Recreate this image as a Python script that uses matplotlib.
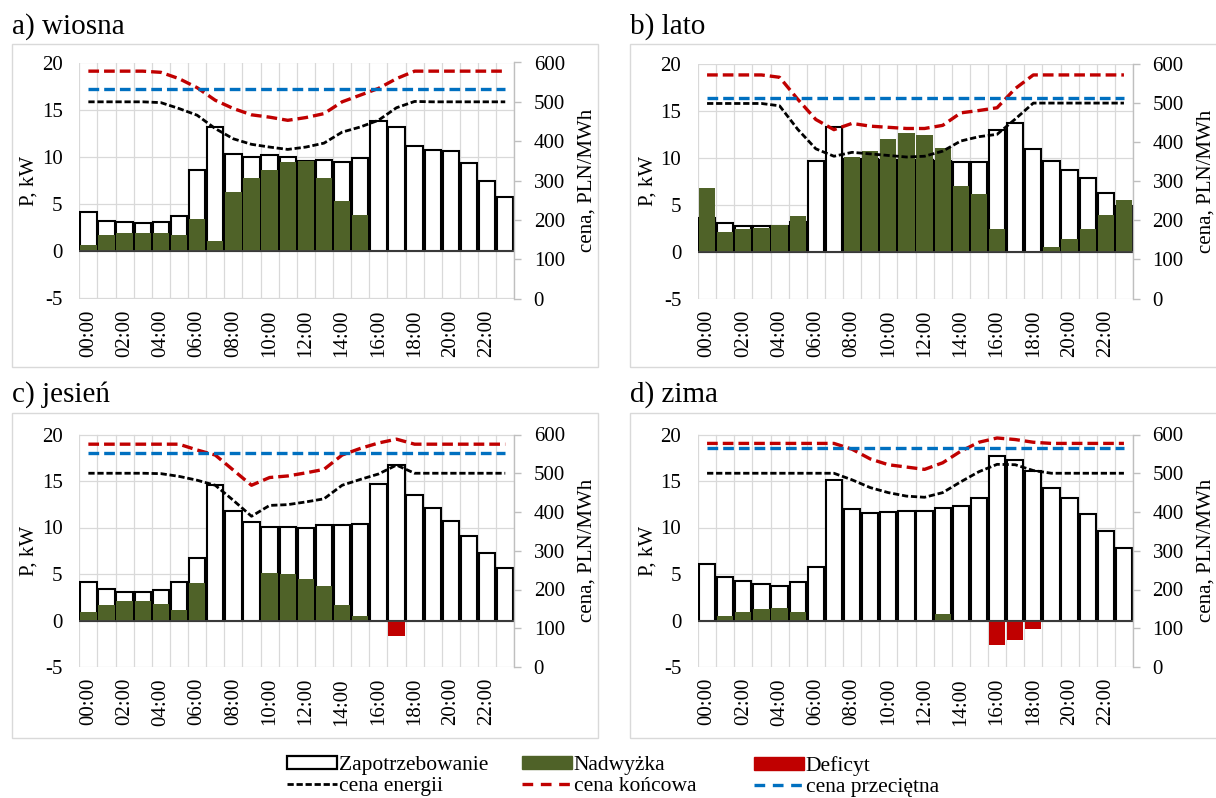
import matplotlib
matplotlib.use("Agg")
import matplotlib.pyplot as plt
from matplotlib.patches import Rectangle, Patch
from matplotlib.lines import Line2D
import numpy as np

plt.rcParams["font.family"] = ["Liberation Serif", "DejaVu Serif"]
plt.rcParams["axes.unicode_minus"] = False
plt.rcParams["lines.scale_dashes"] = False

# ---------------- data ----------------
hours = [f"{h:02d}:00" for h in range(24)]
tick_labels = hours[::2]

titles = ["a) wiosna", "b) lato", "c) jesień", "d) zima"]

# Zapotrzebowanie (demand), kW
demand_spring = [4.2, 3.2, 3.1, 3.0, 3.1, 3.7, 8.6, 13.2, 10.3, 10.0, 10.2, 10.0,
                 9.6, 9.7, 9.5, 9.9, 13.85, 13.2, 11.2, 10.75, 10.6, 9.4, 7.4, 5.7]
demand_summer = [3.6, 3.0, 2.75, 2.75, 2.75, 3.2, 9.65, 13.3, 9.9, 9.9, 9.8, 9.8,
                 9.8, 9.7, 9.6, 9.6, 13.0, 13.75, 10.95, 9.7, 8.75, 7.8, 6.2, 4.9]
demand_autumn = [4.1, 3.4, 3.05, 3.05, 3.3, 4.1, 6.7, 14.6, 11.8, 10.6, 10.1, 10.1,
                 10.0, 10.3, 10.3, 10.4, 14.7, 16.75, 13.5, 12.15, 10.7, 9.05, 7.3, 5.6]
demand_winter = [6.1, 4.65, 4.2, 3.9, 3.75, 4.1, 5.8, 15.1, 12.0, 11.55, 11.65, 11.8,
                 11.8, 12.15, 12.3, 13.2, 17.65, 17.25, 16.05, 14.25, 13.2, 11.45, 9.6, 7.8]

# Nadwyżka (surplus), kW
surplus_spring = [0.7, 1.7, 1.95, 1.95, 1.95, 1.7, 3.4, 1.05, 6.3, 7.8, 8.6, 9.5,
                  9.55, 7.8, 5.3, 3.85, 0, 0, 0, 0, 0, 0, 0, 0]
surplus_summer = [6.75, 2.1, 2.45, 2.55, 2.85, 3.75, 0, 0, 10.1, 10.7, 12.0, 12.6,
                  12.45, 11.0, 7.0, 6.1, 2.4, 0, 0, 0.5, 1.3, 2.4, 3.9, 5.5]
surplus_autumn = [0.9, 1.7, 2.05, 2.15, 1.8, 1.1, 4.0, 0, 0, 0, 5.1, 4.95,
                  4.5, 3.7, 1.7, 0.45, 0, 0, 0, 0, 0, 0, 0, 0]
surplus_winter = [0, 0.45, 0.9, 1.2, 1.35, 0.9, 0, 0, 0, 0, 0, 0,
                  0, 0.75, 0, 0, 0, 0, 0, 0, 0, 0, 0, 0]

# Deficyt (deficit), kW
deficit_spring = [0] * 24
deficit_summer = [0] * 24
deficit_autumn = [0, 0, 0, 0, 0, 0, 0, 0, 0, 0, 0, 0,
                  0, 0, 0, 0, 0, -1.7, 0, 0, 0, 0, 0, 0]
deficit_winter = [0, 0, 0, 0, 0, 0, 0, 0, 0, 0, 0, 0,
                  0, 0, 0, 0, -2.6, -2.15, -0.9, 0, 0, 0, 0, 0]

# cena energii (energy price), PLN/MWh
energy_spring = [500, 500, 500, 500, 498, 483, 466, 432, 406, 392, 385, 379,
                 385, 395, 423, 436, 453, 485, 501, 500, 500, 500, 500, 500]
energy_summer = [499, 499, 499, 499, 493, 433, 383, 364, 374, 370, 366, 362,
                 364, 377, 403, 414, 420, 459, 500, 500, 500, 500, 500, 500]
energy_autumn = [500, 500, 500, 500, 499, 492, 482, 469, 430, 389, 417, 419,
                 426, 434, 469, 484, 498, 521, 500, 500, 500, 500, 500, 500]
energy_winter = [500, 500, 500, 500, 500, 500, 500, 500, 483, 463, 450, 441,
                 438, 450, 478, 504, 523, 522, 507, 500, 500, 500, 500, 500]

# cena końcowa (final price), PLN/MWh
final_spring = [578, 578, 578, 578, 575, 559, 536, 504, 483, 467, 461, 453,
                460, 470, 500, 517, 534, 559, 578, 578, 578, 578, 578, 578]
final_summer = [572, 572, 572, 572, 566, 510, 458, 432, 448, 441, 438, 435,
                435, 443, 475, 481, 488, 537, 572, 572, 572, 572, 572, 572]
final_autumn = [575, 575, 575, 575, 575, 575, 560, 547, 508, 469, 489, 493,
                501, 510, 547, 564, 578, 588, 575, 575, 575, 575, 575, 575]
final_winter = [577, 577, 577, 577, 577, 577, 577, 577, 562, 537, 522, 516,
                510, 527, 557, 580, 591, 587, 580, 577, 577, 577, 577, 577]

# cena przeciętna (average price), PLN/MWh
average_price = [533, 513, 553, 565]

demands = [demand_spring, demand_summer, demand_autumn, demand_winter]
surpluses = [surplus_spring, surplus_summer, surplus_autumn, surplus_winter]
deficits = [deficit_spring, deficit_summer, deficit_autumn, deficit_winter]
energies = [energy_spring, energy_summer, energy_autumn, energy_winter]
finals = [final_spring, final_summer, final_autumn, final_winter]

# ---------------- style ----------------
GREEN = "#4F6228"
RED = "#C00000"
BLUE = "#0070C0"
GRID = "#D9D9D9"
FS = 15

W, H = 1216, 798
fig = plt.figure(figsize=(W / 100, H / 100), dpi=100)


def fx(px):
    return px / W


def fy(py):
    return 1 - py / H


# panel geometry in pixels: (plot_left, plot_top, plot_bottom, frame_left, frame_top, frame_bottom, frame_right)
panels = [
    (79.3, 62.5, 298.5, 11.7, 44, 367, 598),
    (698.0, 64.0, 298.5, 630.0, 44, 367, 1230),
    (79.3, 434.5, 667.0, 11.7, 413.3, 738, 598),
    (698.0, 434.5, 667.0, 630.0, 413.3, 738, 1230),
]
title_baselines = [33.5, 33.5, 402.0, 402.0]

x = np.arange(24)
for i, (pl, pt, pb, frl, frt, frb, frr) in enumerate(panels):
    # frame
    fig.patches.append(Rectangle((fx(frl), fy(frb)), fx(frr - frl), (frb - frt) / H,
                                 transform=fig.transFigure, facecolor="none",
                                 edgecolor=GRID, lw=1.0, zorder=0))
    fig.text(fx(frl), fy(title_baselines[i]), titles[i], fontsize=21,
             ha="left", va="baseline")

    ax = fig.add_axes([fx(pl), fy(pb), fx(435.0), (pb - pt) / H])
    ax.set_facecolor("none")
    ax.set_xlim(-0.5, 23.5)
    ax.set_ylim(-5, 20)
    ax.set_yticks([-5, 0, 5, 10, 15, 20])
    ax.set_xticks(x[::2])
    ax.set_xticklabels(tick_labels, rotation=90)
    ax.set_xticks(np.arange(-0.5, 24, 1), minor=True)
    ax.tick_params(axis="x", which="both", length=0, labelsize=FS, pad=8)
    ax.tick_params(axis="y", length=0, labelsize=FS, pad=12)
    ax.grid(axis="y", which="major", color=GRID, lw=0.9, zorder=0)
    ax.grid(axis="x", which="minor", color=GRID, lw=0.9, zorder=0)
    ax.grid(axis="x", which="major", visible=False)
    ax.set_axisbelow(True)
    for s in ax.spines.values():
        s.set_visible(False)
    ax.set_ylabel("P, kW", fontsize=FS, labelpad=2)

    ax.bar(x, demands[i], width=0.9, color="white", edgecolor="black",
           lw=1.5, zorder=2)
    ax.bar(x, surpluses[i], width=0.9, color=GREEN, lw=0, zorder=3)
    ax.bar(x, deficits[i], width=0.9, color=RED, lw=0, zorder=3)
    ax.axhline(0, color="#404040", lw=1.3, zorder=4)

    ax2 = ax.twinx()
    ax2.set_ylim(0, 600)
    ax2.set_yticks(range(0, 601, 100))
    for k in ["top", "left", "bottom"]:
        ax2.spines[k].set_visible(False)
    ax2.spines["right"].set_color("#BFBFBF")
    ax2.spines["right"].set_linewidth(1.0)
    ax2.tick_params(axis="y", length=5, width=1.0, color="#BFBFBF",
                    labelsize=FS, pad=9)
    ax2.set_ylabel("cena, PLN/MWh", fontsize=FS, labelpad=9)

    ax2.plot(x, finals[i], color=RED, lw=2.4, dashes=(7.7, 3.6))
    ax2.plot(x, [average_price[i]] * 24, color=BLUE, lw=2.4, dashes=(7.7, 3.6))
    ax2.plot(x, energies[i], color="black", lw=2.0, dashes=(4.5, 2.0))

# ---------------- legend ----------------
h_dem = Patch(facecolor="white", edgecolor="black", lw=1.6)
h_sur = Patch(facecolor=GREEN, edgecolor=GREEN)
h_def = Patch(facecolor=RED, edgecolor=RED)
h_en = Line2D([], [], color="black", lw=2.0, dashes=(4.5, 2.0))
h_fi = Line2D([], [], color=RED, lw=2.4, dashes=(7.7, 5.5))
h_av = Line2D([], [], color=BLUE, lw=2.4, dashes=(7.7, 5.5))

cols = [
    (287, [h_dem, h_en], ["Zapotrzebowanie", "cena energii"]),
    (522, [h_sur, h_fi], ["Nadwyżka", "cena końcowa"]),
    (754, [h_def, h_av], ["Deficyt", "cena przeciętna"]),
]
for px, hs, ls in cols:
    fig.legend(hs, ls, loc="upper left", bbox_to_anchor=(fx(px), fy(756)),
               frameon=False, fontsize=15.5, borderpad=0, borderaxespad=0,
               handlelength=2.3, handleheight=0.55, handletextpad=0.1,
               labelspacing=0.1)

fig.savefig("out.png", dpi=100)
